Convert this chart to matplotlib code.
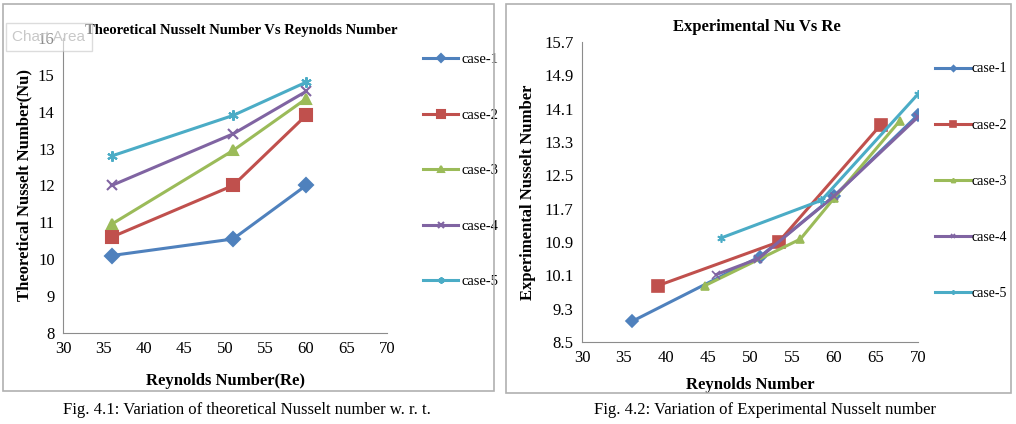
import matplotlib.pyplot as plt
from matplotlib.patches import Rectangle

# Fig 4.1 - theoretical Nu
re_theo = [36, 51, 60]
nu_theo_1 = [10.1, 10.55, 12.0]
nu_theo_2 = [10.6, 12.0, 13.9]
nu_theo_3 = [10.95, 12.95, 14.35]
nu_theo_4 = [12.0, 13.4, 14.55]
nu_theo_5 = [12.8, 13.9, 14.8]

# Fig 4.2 - experimental Nu
re_exp_1 = [36, 51.2, 60, 70]
nu_exp_1 = [9.0, 10.55, 12.0, 13.95]
re_exp_2 = [39, 53.4, 65.6]
nu_exp_2 = [9.85, 10.9, 13.72]
re_exp_3 = [44.6, 56, 60, 67.8]
nu_exp_3 = [9.85, 10.97, 11.95, 13.8]
re_exp_4 = [46, 51, 60, 70]
nu_exp_4 = [10.12, 10.5, 12.0, 13.9]
re_exp_5 = [46.6, 58.5, 70]
nu_exp_5 = [11.0, 11.9, 14.45]

labels = ['case-1', 'case-2', 'case-3', 'case-4', 'case-5']
colors = ['#4F81BD', '#C0504D', '#9BBB59', '#8064A2', '#4BACC6']
markers = ['D', 's', '^', 'x', (6, 2, 0)]
left_ticks_y = [8, 9, 10, 11, 12, 13, 14, 15, 16]
right_ticks_y = [8.5, 9.3, 10.1, 10.9, 11.7, 12.5, 13.3, 14.1, 14.9, 15.7]
ticks_x = [30, 35, 40, 45, 50, 55, 60, 65, 70]

plt.rcParams['font.family'] = ['Liberation Serif', 'DejaVu Serif']

W, H = 1016, 424
fig = plt.figure(figsize=(W / 100, H / 100), dpi=100)


def px_axes(x0, x1, ytop, ybot):
    return fig.add_axes([x0 / W, 1 - ybot / H, (x1 - x0) / W, (ybot - ytop) / H])


def px_box(x0, x1, ytop, ybot):
    fig.patches.append(Rectangle((x0 / W, 1 - ybot / H), (x1 - x0) / W, (ybot - ytop) / H,
                                 transform=fig.transFigure, fill=False,
                                 edgecolor='#b0b0b0', linewidth=1.2))


def style(ax):
    for s in ['top', 'right']:
        ax.spines[s].set_visible(False)
    for s in ['left', 'bottom']:
        ax.spines[s].set_color('#8c8c8c')
    ax.tick_params(length=0, labelsize=12, pad=6)


# panel frames
px_box(3, 494, 4, 391)
px_box(506, 1011, 4, 393)

# ---- left chart
ax1 = px_axes(63, 387, 38, 333)
thy = [nu_theo_1, nu_theo_2, nu_theo_3, nu_theo_4, nu_theo_5]
for i, y in enumerate(thy):
    ms = 8.5 if markers[i] == 's' else 7.5
    ax1.plot(re_theo, y, color=colors[i], lw=2.2, marker=markers[i], ms=ms,
             mew=1.5, label=labels[i])
ax1.set_xlim(30, 70)
ax1.set_ylim(8, 16)
ax1.set_xticks(ticks_x)
ax1.set_yticks(left_ticks_y)
style(ax1)
ax1.set_title('Theoretical Nusselt Number Vs Reynolds Number', fontsize=10.5,
              fontweight='bold', pad=3, x=0.55)
ax1.set_xlabel('Reynolds Number(Re)', fontsize=12, fontweight='bold', labelpad=11)
ax1.set_ylabel('Theoretical Nusselt Number(Nu)', fontsize=12, fontweight='bold', labelpad=4)
ax1.legend(loc='upper left', bbox_to_anchor=(410 / W, 1 - 40 / H),
           bbox_transform=fig.transFigure, frameon=False, fontsize=10.5,
           labelspacing=2.9, handlelength=2.4, handletextpad=0.2, markerscale=0.6)

# "Chart Area" tooltip box (it sits over the top tick label in the reference)
fig.text(49 / W, 1 - 37 / H, 'Chart Area', fontsize=11, color='#c8c8c8',
         family='Liberation Sans', ha='center', va='center',
         bbox=dict(boxstyle='square,pad=0.45', fc='white', ec='#c0c0c0', alpha=0.55))

# ---- right chart
ax2 = px_axes(582, 918, 42, 342)
exp = [(re_exp_1, nu_exp_1), (re_exp_2, nu_exp_2), (re_exp_3, nu_exp_3),
       (re_exp_4, nu_exp_4), (re_exp_5, nu_exp_5)]
for i, (x, y) in enumerate(exp):
    ms = 8 if markers[i] == 's' else 6
    ax2.plot(x, y, color=colors[i], lw=2.2, marker=markers[i], ms=ms,
             mew=1.2, label=labels[i])
ax2.set_xlim(30, 70)
ax2.set_ylim(8.5, 15.7)
ax2.set_xticks(ticks_x)
ax2.set_yticks(right_ticks_y)
style(ax2)
ax2.set_title('Experimental Nu Vs Re', fontsize=12, fontweight='bold', pad=8, x=0.52)
ax2.set_xlabel('Reynolds Number', fontsize=12, fontweight='bold', labelpad=8)
ax2.set_ylabel('Experimental Nusselt Number', fontsize=12, fontweight='bold', labelpad=6)
ax2.legend(loc='upper left', bbox_to_anchor=(922 / W, 1 - 50 / H),
           bbox_transform=fig.transFigure, frameon=False, fontsize=10,
           labelspacing=3.1, handlelength=2.6, handletextpad=0.1, markerscale=0.5)

# captions
fig.text(247 / W, 1 - 410 / H, 'Fig. 4.1: Variation of theoretical Nusselt number w. r. t.',
         fontsize=12, ha='center', va='center')
fig.text(765 / W, 1 - 410 / H, 'Fig. 4.2: Variation of Experimental Nusselt number',
         fontsize=12, ha='center', va='center')

fig.savefig('out.png', dpi=100)
